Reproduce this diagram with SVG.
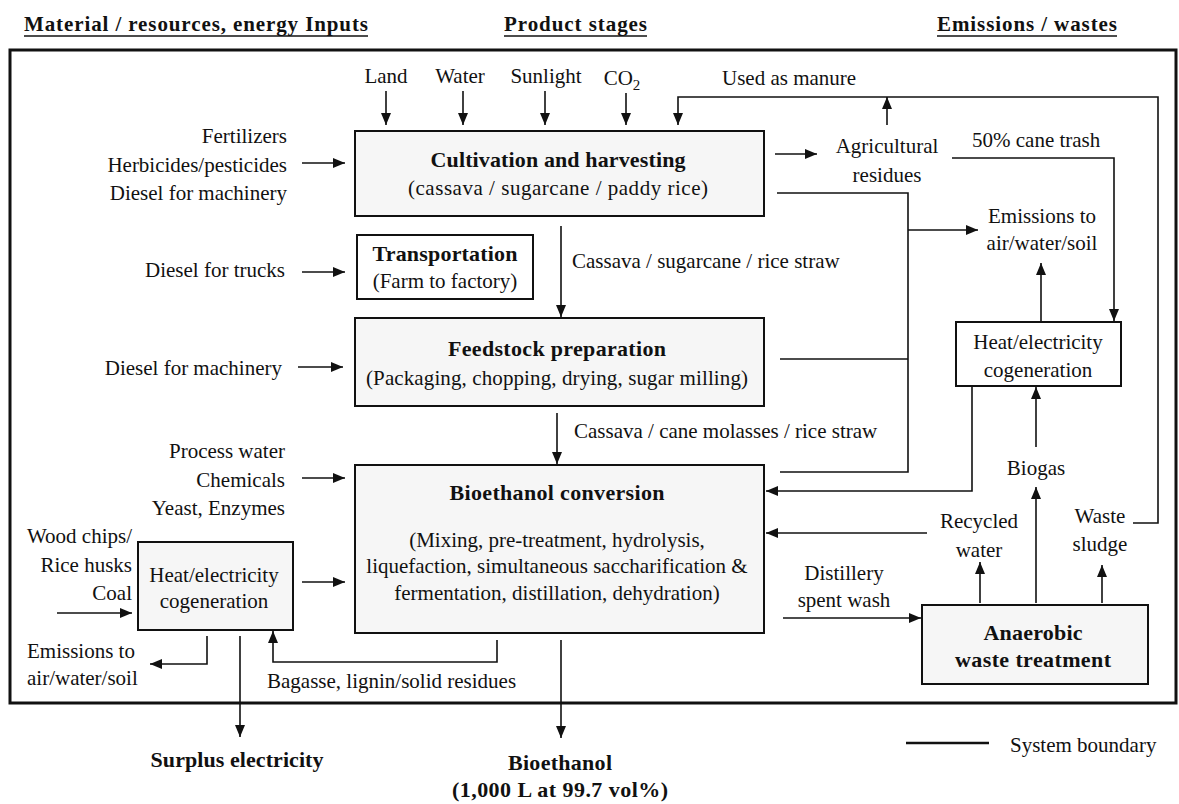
<svg xmlns="http://www.w3.org/2000/svg" width="1179" height="804" viewBox="0 0 1179 804" font-family="'Liberation Serif', serif" font-size="21">
<style>
text{fill:#111}
.b{font-weight:bold;font-size:22px}
.h{font-weight:bold;font-size:21px}
.m{text-anchor:middle}
.e{text-anchor:end}
.sub{font-size:15px}
.box{fill:#f6f6f6;stroke:#111;stroke-width:2}
.wbox{fill:#fff;stroke:#111;stroke-width:2}
.c{fill:none;stroke:#111;stroke-width:1.6}
.a{marker-end:url(#ah)}
</style>
<defs>
<marker id="ah" viewBox="0 0 12 10" refX="12" refY="5" markerWidth="12" markerHeight="10" orient="auto" markerUnits="userSpaceOnUse"><path d="M0,0 L12,5 L0,10z" fill="#111"/></marker>
</defs>
<rect width="1179" height="804" fill="#fff"/>
<g id="headers">
<text class="h" x="24" y="31" textLength="344">Material / resources, energy Inputs</text>
<line x1="24" y1="36" x2="368" y2="36" stroke="#111" stroke-width="1.5"/>
<text class="h" x="504" y="31" textLength="143">Product stages</text>
<line x1="504" y1="36" x2="647" y2="36" stroke="#111" stroke-width="1.5"/>
<text class="h" x="937" y="31" textLength="180">Emissions / wastes</text>
<line x1="937" y1="36" x2="1117" y2="36" stroke="#111" stroke-width="1.5"/>
</g>
<g id="boundary">
<rect x="10" y="50" width="1166" height="653" fill="none" stroke="#111" stroke-width="3"/>
</g>
<g id="connectors">
<path class="c a" d="M302,163 H345"/>
<path class="c a" d="M302,272 H345"/>
<path class="c a" d="M298,367 H343"/>
<path class="c a" d="M302,478 H345"/>
<path class="c a" d="M57,613 H132"/>
<path class="c a" d="M302,582 H345"/>
<path class="c a" d="M386,91 V125"/>
<path class="c a" d="M463,91 V125"/>
<path class="c a" d="M545,91 V125"/>
<path class="c a" d="M626,93 V125"/>
<path class="c a" d="M1133,523 H1158 V97 H678 V125"/>
<path class="c a" d="M887,125 V97"/>
<path class="c a" d="M775,154 H817"/>
<path class="c" d="M777,193 H908 V472 H780"/>
<path class="c" d="M780,359 H908"/>
<path class="c a" d="M908,230 H978"/>
<path class="c a" d="M952,158 H1114 V321"/>
<path class="c a" d="M1041,321 V263"/>
<path class="c a" d="M972,386 V491 H766"/>
<path class="c a" d="M1036,447 V387"/>
<path class="c a" d="M1036,603 V487"/>
<path class="c a" d="M980,603 V562"/>
<path class="c a" d="M927,533 H766"/>
<path class="c a" d="M1102,603 V565"/>
<path class="c a" d="M783,618 H921"/>
<path class="c a" d="M561,226 V317"/>
<path class="c a" d="M557,413 V464"/>
<path class="c a" d="M561,640 V738"/>
<path class="c a" d="M497,640 V662 H273 V631"/>
<path class="c a" d="M207,636 V664 H150"/>
<path class="c a" d="M240,636 V737"/>
</g>
<g id="cultivation">
<rect class="box" x="355" y="131" width="409" height="85"/>
<text class="b m" x="558" y="167" textLength="255">Cultivation and harvesting</text>
<text class="m" x="558" y="195" textLength="300">(cassava / sugarcane / paddy rice)</text>
</g>
<g id="transportation">
<rect class="wbox" x="357" y="235" width="176" height="64"/>
<text class="b m" x="445" y="261" textLength="145">Transportation</text>
<text class="m" x="445" y="288">(Farm to factory)</text>
</g>
<g id="feedstock">
<rect class="box" x="355" y="318" width="409" height="88"/>
<text class="b m" x="557" y="356" textLength="218">Feedstock preparation</text>
<text class="m" x="557" y="385" textLength="382">(Packaging, chopping, drying, sugar milling)</text>
</g>
<g id="conversion">
<rect class="box" x="355" y="465" width="409" height="168"/>
<text class="b m" x="557" y="500" textLength="215">Bioethanol conversion</text>
<text class="m" x="557" y="547">(Mixing, pre-treatment, hydrolysis,</text>
<text class="m" x="557" y="573">liquefaction, simultaneous saccharification &amp;</text>
<text class="m" x="557" y="600">fermentation, distillation, dehydration)</text>
</g>
<g id="heat-left">
<rect class="box" x="138" y="542" width="155" height="88"/>
<text class="m" x="214" y="582">Heat/electricity</text>
<text class="m" x="214" y="608">cogeneration</text>
</g>
<g id="heat-right">
<rect class="wbox" x="956" y="322" width="165" height="64"/>
<text class="m" x="1038" y="349">Heat/electricity</text>
<text class="m" x="1038" y="377">cogeneration</text>
</g>
<g id="anaerobic">
<rect class="box" x="922" y="605" width="226" height="79"/>
<text class="b m" x="1033" y="640" textLength="99">Anaerobic</text>
<text class="b m" x="1033" y="667" textLength="156">waste treatment</text>
</g>
<g id="inputs">
<text class="m" x="386" y="83">Land</text>
<text class="m" x="460" y="83">Water</text>
<text class="m" x="546" y="83">Sunlight</text>
<text class="m" x="622" y="85">CO<tspan class="sub" dy="5">2</tspan></text>
<text class="e" x="287" y="143">Fertilizers</text>
<text class="e" x="287" y="172">Herbicides/pesticides</text>
<text class="e" x="287" y="200">Diesel for machinery</text>
<text class="e" x="285" y="277">Diesel for trucks</text>
<text class="e" x="282" y="375">Diesel for machinery</text>
<text class="e" x="285" y="458">Process water</text>
<text class="e" x="285" y="487">Chemicals</text>
<text class="e" x="285" y="515">Yeast, Enzymes</text>
<text class="e" x="132" y="543">Wood chips/</text>
<text class="e" x="132" y="572">Rice husks</text>
<text class="e" x="132" y="600">Coal</text>
</g>
<g id="labels">
<text x="722" y="85">Used as manure</text>
<text class="m" x="887" y="153">Agricultural</text>
<text class="m" x="887" y="182">residues</text>
<text x="972" y="147">50% cane trash</text>
<text class="m" x="1042" y="223">Emissions to</text>
<text class="m" x="1042" y="250">air/water/soil</text>
<text x="572" y="268">Cassava / sugarcane / rice straw</text>
<text x="574" y="438">Cassava / cane molasses / rice straw</text>
<text class="m" x="1036" y="475">Biogas</text>
<text class="m" x="979" y="528">Recycled</text>
<text class="m" x="979" y="557">water</text>
<text class="m" x="1100" y="523">Waste</text>
<text class="m" x="1100" y="551">sludge</text>
<text class="m" x="844" y="580">Distillery</text>
<text class="m" x="844" y="607">spent wash</text>
<text x="27" y="658">Emissions to</text>
<text x="27" y="685">air/water/soil</text>
<text x="267" y="688">Bagasse, lignin/solid residues</text>
</g>
<g id="outputs">
<text class="b m" x="237" y="767" textLength="173">Surplus electricity</text>
<text class="b m" x="560" y="770" textLength="104">Bioethanol</text>
<text class="b m" x="560" y="797" textLength="216">(1,000 L at 99.7 vol%)</text>
</g>
<g id="legend">
<line x1="906" y1="743" x2="989" y2="743" stroke="#111" stroke-width="2.5"/>
<text x="1010" y="752">System boundary</text>
</g>
</svg>
